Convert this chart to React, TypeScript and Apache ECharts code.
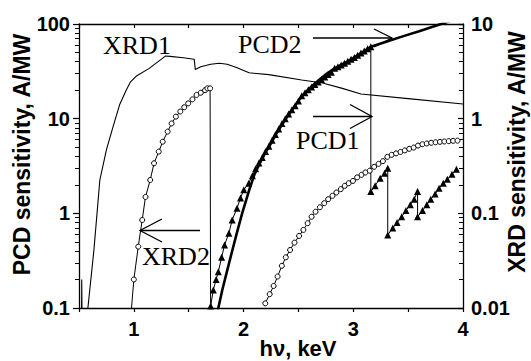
import React, { useEffect, useRef } from 'react';
import * as echarts from 'echarts';

// ---- data (left-axis units; right axis = left / 10) ----
const xrd1X = [0.522, 0.525, 0.529, 0.575, 0.581, 0.636, 0.69, 0.75, 0.81, 0.87, 0.93, 0.97, 1.02, 1.14, 1.29, 1.33, 1.45, 1.55, 1.56, 1.61, 1.70, 1.78, 1.85, 1.93, 2.05, 2.23, 2.53, 2.72, 2.9, 3.07, 3.5, 4.0];
const xrd1Y = [0.05, 0.2, 0.05, 0.05, 0.1, 0.41, 2.25, 4.67, 8.2, 14, 20, 24.5, 28, 34, 46, 45.5, 44, 42.5, 33, 35.4, 37.5, 38.5, 37.5, 35, 30.5, 29.2, 25.6, 23.8, 20.9, 18.2, 16.3, 14.3];

const xrd2aLead = [0.977, 0.095];
const xrd2aX = [1.0, 1.04, 1.076, 1.106, 1.149, 1.184, 1.227, 1.263, 1.308, 1.344, 1.383, 1.423, 1.459, 1.495, 1.534, 1.571, 1.61, 1.649, 1.67, 1.695];
const xrd2aY = [0.2, 0.445, 0.85, 1.49, 2.25, 3.38, 4.49, 5.71, 7.3, 8.9, 10.5, 11.9, 13.2, 14.5, 16, 17.8, 18.8, 20, 20.9, 20.9];
const xrd2aDrop = [1.70, 0.05];

const xrd2bX = [2.198, 2.238, 2.274, 2.31, 2.349, 2.385, 2.424, 2.464, 2.506, 2.545, 2.584, 2.62, 2.656, 2.696, 2.735, 2.771, 2.81, 2.846, 2.886, 2.922, 2.958, 2.997, 3.035, 3.075, 3.11, 3.15, 3.19, 3.23, 3.27, 3.31, 3.35, 3.39, 3.43, 3.47, 3.51, 3.55, 3.59, 3.63, 3.67, 3.71, 3.75, 3.79, 3.83, 3.87, 3.91, 3.95];
const xrd2bY = [0.112, 0.14, 0.171, 0.215, 0.279, 0.343, 0.41, 0.49, 0.577, 0.668, 0.786, 0.92, 1.04, 1.16, 1.28, 1.41, 1.53, 1.66, 1.8, 1.95, 2.08, 2.2, 2.4, 2.55, 2.7, 2.82, 3.1, 3.33, 3.56, 3.95, 4.15, 4.3, 4.45, 4.62, 4.8, 4.95, 5.2, 5.37, 5.47, 5.56, 5.63, 5.69, 5.74, 5.79, 5.83, 5.86];

const pcd2X = [1.76, 1.77, 1.806, 1.851, 1.896, 1.942, 1.987, 2.047, 2.1, 2.15, 2.2, 2.25, 2.3, 2.38, 2.45, 2.53, 2.6, 2.68, 2.76, 2.83, 2.92, 3.0, 3.08, 3.16, 3.3, 3.45, 3.6, 3.8, 4.0];
const pcd2Y = [0.085, 0.1, 0.155, 0.25, 0.4, 0.64, 1.0, 1.7, 2.6, 3.4, 4.4, 5.5, 7.0, 9.8, 12.8, 17.3, 20.8, 25.2, 30, 34, 38.5, 43.7, 50, 57.5, 65, 74, 84, 100, 119];

const pcd1X = [1.70, 1.724, 1.75, 1.77, 1.80, 1.827, 1.866, 1.896, 1.94, 1.972, 2.002, 2.047, 2.08, 2.11, 2.14, 2.17, 2.2, 2.23, 2.26, 2.29, 2.32, 2.35, 2.38, 2.41, 2.44, 2.47, 2.5, 2.53, 2.56, 2.59, 2.62, 2.65, 2.68, 2.71, 2.74, 2.77, 2.8, 2.83, 2.86, 2.89, 2.92, 2.95, 2.98, 3.01, 3.04, 3.07, 3.1, 3.13, 3.16,
  3.16, 3.199, 3.245, 3.285, 3.314,
  3.314, 3.36, 3.399, 3.441, 3.48, 3.52, 3.555, 3.586,
  3.586, 3.631, 3.67, 3.706, 3.746, 3.782, 3.82, 3.857, 3.9, 3.94];
const pcd1Y = [0.105, 0.155, 0.2, 0.242, 0.343, 0.463, 0.616, 0.85, 1.13, 1.45, 1.77, 2.08, 2.5, 2.95, 3.4, 3.9, 4.5, 5.1, 5.9, 6.8, 7.8, 8.9, 10, 11.2, 12.4, 13.7, 15.4, 17.5, 18.8, 20.2, 21.6, 23, 24.4, 26, 27.6, 29.3, 31, 34, 35.4, 36.9, 38.5, 40.3, 42.3, 44.4, 46.8, 49.4, 52, 54.8, 57.5,
  1.70, 1.96, 2.35, 2.65, 2.99,
  0.59, 0.70, 0.80, 0.92, 1.07, 1.23, 1.41, 1.70,
  0.92, 1.07, 1.23, 1.41, 1.6, 1.84, 2.08, 2.29, 2.59, 2.92];

const xTicks = [1, 2, 3, 4];
const leftMinor = [0.2, 0.3, 0.4, 0.5, 0.6, 0.7, 0.8, 0.9, 2, 3, 4, 5, 6, 7, 8, 9, 20, 30, 40, 50, 60, 70, 80, 90];
const rightMinor = [0.02, 0.03, 0.04, 0.05, 0.06, 0.07, 0.08, 0.09, 0.2, 0.3, 0.4, 0.5, 0.6, 0.7, 0.8, 0.9, 2, 3, 4, 5, 6, 7, 8, 9];

const zip = (xs: number[], ys: number[]) => xs.map((x, i) => [x, ys[i]]);

const BLACK = '#000';
const axisFont = { fontFamily: 'Liberation Sans', fontWeight: 'bold' as const, fontSize: 20, color: BLACK };
const serif = '26px "Liberation Serif"';

export default function App() {
  const ref = useRef<HTMLDivElement>(null);
  useEffect(() => {
    const chart = echarts.init(ref.current!, null, { renderer: 'svg' });
    const lineAxis = { show: true, onZero: false, lineStyle: { color: BLACK, width: 1.3 } };
    const option: any = {
      animation: false,
      backgroundColor: '#fff',
      grid: { left: 79, right: 68, top: 24, bottom: 53 },
      xAxis: [
        {
          type: 'value', min: 0.5, max: 4, interval: 0.5, position: 'bottom',
          axisLine: lineAxis,
          axisTick: { show: true, length: 4, lineStyle: { color: BLACK, width: 1.2 } },
          axisLabel: { ...axisFont, margin: 11, formatter: (v: number) => (xTicks.includes(v) ? String(v) : '') },
          splitLine: { show: false },
        },
        {
          type: 'value', min: 0.5, max: 4, interval: 0.5, position: 'top',
          axisLine: lineAxis,
          axisTick: { show: true, inside: true, length: 4, lineStyle: { color: BLACK, width: 1.2 } },
          axisLabel: { show: false },
          splitLine: { show: false },
        },
      ],
      yAxis: [
        {
          type: 'log', logBase: 10, min: 0.1, max: 100, position: 'left',
          axisLine: lineAxis,
          axisTick: { show: true, length: 6, lineStyle: { color: BLACK, width: 1.2 } },
          axisLabel: { ...axisFont, margin: 9 },
          splitLine: { show: false },
        },
        {
          type: 'log', logBase: 10, min: 0.01, max: 10, position: 'right',
          axisLine: lineAxis,
          axisTick: { show: true, inside: true, length: 5, lineStyle: { color: BLACK, width: 1.2 } },
          axisLabel: { ...axisFont, margin: 8 },
          splitLine: { show: false },
        },
        {
          type: 'value', min: -1, max: 2, position: 'left',
          axisLine: { show: false, onZero: false },
          axisTick: { show: true, length: 4, customValues: leftMinor.map(Math.log10), lineStyle: { color: BLACK, width: 1 } },
          axisLabel: { show: false },
          splitLine: { show: false },
        },
        {
          type: 'value', min: -2, max: 1, position: 'right',
          axisLine: { show: false, onZero: false },
          axisTick: { show: true, inside: true, length: 4, customValues: rightMinor.map(Math.log10), lineStyle: { color: BLACK, width: 1 } },
          axisLabel: { show: false },
          splitLine: { show: false },
        },
      ],
      series: [
        {
          name: 'XRD1', type: 'line', xAxisIndex: 0, yAxisIndex: 0,
          data: zip(xrd1X, xrd1Y), symbol: 'none', showSymbol: false,
          lineStyle: { color: BLACK, width: 1.1 }, clip: true, z: 2,
        },
        {
          name: 'PCD2', type: 'line', xAxisIndex: 0, yAxisIndex: 0,
          data: zip(pcd2X, pcd2Y), symbol: 'none', showSymbol: false,
          lineStyle: { color: BLACK, width: 2.6 }, clip: true, z: 3,
        },
        {
          name: 'PCD1', type: 'line', xAxisIndex: 0, yAxisIndex: 0,
          data: zip(pcd1X, pcd1Y), symbol: 'triangle', symbolSize: 7, showAllSymbol: true,
          itemStyle: { color: BLACK }, lineStyle: { color: BLACK, width: 1 }, clip: true, z: 4,
        },
        {
          name: 'XRD2', type: 'line', xAxisIndex: 0, yAxisIndex: 0,
          data: [
            { value: xrd2aLead, symbol: 'none' },
            ...zip(xrd2aX, xrd2aY),
            { value: xrd2aDrop, symbol: 'none' },
          ],
          symbol: 'circle', symbolSize: 5, showAllSymbol: true,
          itemStyle: { color: '#fff', borderColor: BLACK, borderWidth: 1 },
          lineStyle: { color: BLACK, width: 1 }, clip: true, z: 5,
        },
        {
          name: 'XRD2 ', type: 'line', xAxisIndex: 0, yAxisIndex: 0,
          data: zip(xrd2bX, xrd2bY),
          symbol: 'circle', symbolSize: 5, showAllSymbol: true,
          itemStyle: { color: '#fff', borderColor: BLACK, borderWidth: 1 },
          lineStyle: { color: BLACK, width: 1 }, clip: true, z: 5,
        },
      ],
      graphic: [
        { type: 'text', z: 100, x: 103, y: 45, style: { text: 'XRD1', font: serif, fill: BLACK, textAlign: 'left', textVerticalAlign: 'middle' } },
        { type: 'text', z: 100, x: 238, y: 44, style: { text: 'PCD2', font: serif, fill: BLACK, textAlign: 'left', textVerticalAlign: 'middle' } },
        { type: 'text', z: 100, x: 296, y: 140.5, style: { text: 'PCD1', font: serif, fill: BLACK, textAlign: 'left', textVerticalAlign: 'middle' } },
        { type: 'text', z: 100, x: 142, y: 256, style: { text: 'XRD2', font: serif, fill: BLACK, textAlign: 'left', textVerticalAlign: 'middle' } },
        // arrows
        { type: 'line', z: 100, shape: { x1: 313, y1: 38, x2: 392, y2: 38 }, style: { stroke: BLACK, lineWidth: 1.3 } },
        { type: 'polyline', z: 100, shape: { points: [[374, 29], [392, 38], [374, 47]] }, style: { stroke: BLACK, lineWidth: 1.3, fill: 'none' } },
        { type: 'line', z: 100, shape: { x1: 313, y1: 116.5, x2: 372, y2: 116.5 }, style: { stroke: BLACK, lineWidth: 1.3 } },
        { type: 'polyline', z: 100, shape: { points: [[350, 104.5], [372, 116.5], [350, 128.5]] }, style: { stroke: BLACK, lineWidth: 1.3, fill: 'none' } },
        { type: 'line', z: 100, shape: { x1: 140, y1: 230.5, x2: 200, y2: 230.5 }, style: { stroke: BLACK, lineWidth: 1.3 } },
        { type: 'polyline', z: 100, shape: { points: [[162, 219], [140, 230.5], [162, 242]] }, style: { stroke: BLACK, lineWidth: 1.3, fill: 'none' } },
        // axis titles
        { type: 'text', z: 100, x: 21.5, y: 154.5, rotation: Math.PI / 2, style: { text: 'PCD sensitivity, A/MW', font: 'bold 23px "Liberation Sans"', fill: BLACK, textAlign: 'center', textVerticalAlign: 'middle' } },
        { type: 'text', z: 100, x: 517, y: 152, rotation: Math.PI / 2, style: { text: 'XRD sensitivity, A/MW', font: 'bold 23px "Liberation Sans"', fill: BLACK, textAlign: 'center', textVerticalAlign: 'middle' } },
        { type: 'text', z: 100, x: 298, y: 348, style: { text: 'hν, keV', font: 'bold 22px "Liberation Sans"', fill: BLACK, textAlign: 'center', textVerticalAlign: 'middle' } },
      ],
    };
    chart.setOption(option);
    return () => chart.dispose();
  }, []);
  return <div ref={ref} style={{ position: 'absolute', left: 0, top: 0, width: 531, height: 361, background: '#fff' }} />;
}
